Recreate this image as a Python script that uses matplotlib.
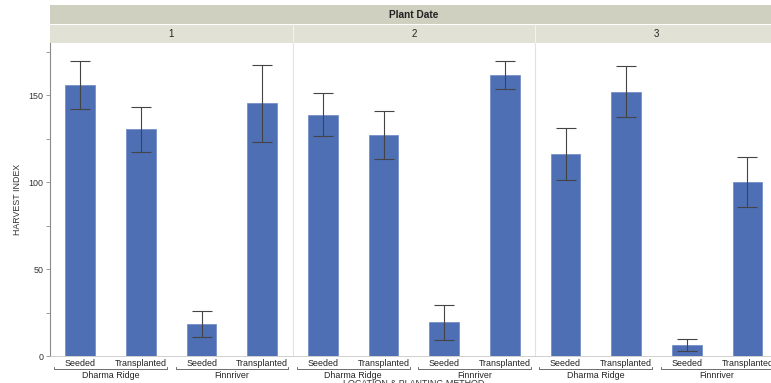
import matplotlib
matplotlib.use("Agg")
from matplotlib import pyplot as plt
from matplotlib.transforms import blended_transform_factory

# values
plant_dates = ['1', '2', '3']
locations = ['Dharma Ridge', 'Finnriver']
methods = ['Seeded', 'Transplanted']

means_by_date = [[155.7, 130.3, 18.4, 145.4],
                 [138.7, 127.0, 19.5, 161.5],
                 [116.1, 151.9, 6.3, 99.8]]
err_low = [[141.8, 117.4, 11.1, 123.2],
           [126.6, 113.2, 9.4, 153.3],
           [101.0, 137.2, 2.7, 85.8]]
err_high = [[169.4, 143.3, 26.0, 167.6],
            [151.0, 140.8, 29.5, 169.5],
            [131.2, 167.0, 9.8, 114.2]]

W, H = 771, 383
fig = plt.figure(figsize=(W / 100, H / 100), dpi=100)
plt.rcParams['font.family'] = ['Liberation Sans', 'DejaVu Sans']

def px_axes(x0, y0, x1, y1):
    # pixel box (top-left origin) -> figure axes
    return fig.add_axes([x0 / W, 1 - y1 / H, (x1 - x0) / W, (y1 - y0) / H])

bar_color = '#4e6fb4'
err_color = '#444444'
fs = 6.4
panel_w = 242.6
left0 = 50
top, bottom = 43, 356

# strips
outer = px_axes(left0, 5, left0 + 3 * panel_w, 24)
outer.set_facecolor('#cfd0bf')
outer.text(0.5, 0.5, 'Plant Date', transform=outer.transAxes, ha='center',
           va='center', fontsize=7.3, fontweight='bold', color='#222222')

xs = list(range(len(locations) * len(methods)))
tick_labels = [m for _ in locations for m in methods]

for i, date in enumerate(plant_dates):
    x0 = left0 + i * panel_w
    strip = px_axes(x0, 24.5, x0 + panel_w, top)
    strip.set_facecolor('#e1e1d5')
    strip.text(0.5, 0.5, date, transform=strip.transAxes, ha='center',
               va='center', fontsize=fs + 0.6, color='#222222')
    for s in [strip, outer]:
        s.set_xticks([])
        s.set_yticks([])
        for sp in s.spines.values():
            sp.set_visible(False)
    if i > 0:
        strip.spines['left'].set_visible(True)
        strip.spines['left'].set_color('#f2f2ee')

    ax = px_axes(x0, top, x0 + panel_w, bottom)
    means = means_by_date[i]
    yerr = [[m - lo for m, lo in zip(means, err_low[i])],
            [hi - m for m, hi in zip(means, err_high[i])]]
    ax.bar(xs, means, width=0.49, color=bar_color, edgecolor='#6d88c6',
           linewidth=0.5, zorder=2)
    ax.errorbar(xs, means, yerr=yerr, fmt='none', ecolor=err_color,
                elinewidth=0.8, capsize=7, capthick=0.8, zorder=3)
    ax.set_xlim(-0.5, 3.5)
    ax.set_ylim(0, 180)
    ax.set_xticks(xs)
    ax.set_xticklabels(tick_labels, fontsize=fs, color='#222222')
    ax.tick_params(axis='x', length=0, pad=2)
    for sp in ['top', 'right']:
        ax.spines[sp].set_visible(False)
    ax.spines['bottom'].set_color('#c8c8c8')
    ax.spines['bottom'].set_linewidth(0.6)
    if i == 0:
        ax.spines['left'].set_color('#8a8a8a')
        ax.spines['left'].set_linewidth(0.8)
        ax.set_yticks([0, 50, 100, 150])
        ax.set_yticks([25, 75, 125, 175], minor=True)
        ax.tick_params(axis='y', which='both', length=3, width=0.6,
                       color='#8a8a8a', labelsize=fs, labelcolor='#333333',
                       pad=1.5)
        ax.set_ylabel('HARVEST INDEX', fontsize=fs, color='#333333',
                      labelpad=5)
    else:
        ax.spines['left'].set_color('#e2e2e2')
        ax.spines['left'].set_linewidth(0.8)
        ax.set_yticks([])

    # location brackets under the method labels
    trans = blended_transform_factory(ax.transData, ax.transAxes)
    by = -13 / (bottom - top)
    for j, loc in enumerate(locations):
        a = j * 2 - 0.43
        b = j * 2 + 1 + 0.43
        ax.plot([a, a, b, b], [by + 0.006, by, by, by + 0.006],
                color='#555555', lw=0.6, transform=trans, clip_on=False)
        ax.text(j * 2 + 0.5, by - 0.006, loc, transform=trans, ha='center',
                va='top', fontsize=fs, color='#222222')

fig.text((left0 + 1.5 * panel_w) / W, 1 - 378.5 / H,
         'LOCATION & PLANTING METHOD', ha='center', va='top', fontsize=fs,
         color='#333333')

fig.savefig('out.png', dpi=100)
